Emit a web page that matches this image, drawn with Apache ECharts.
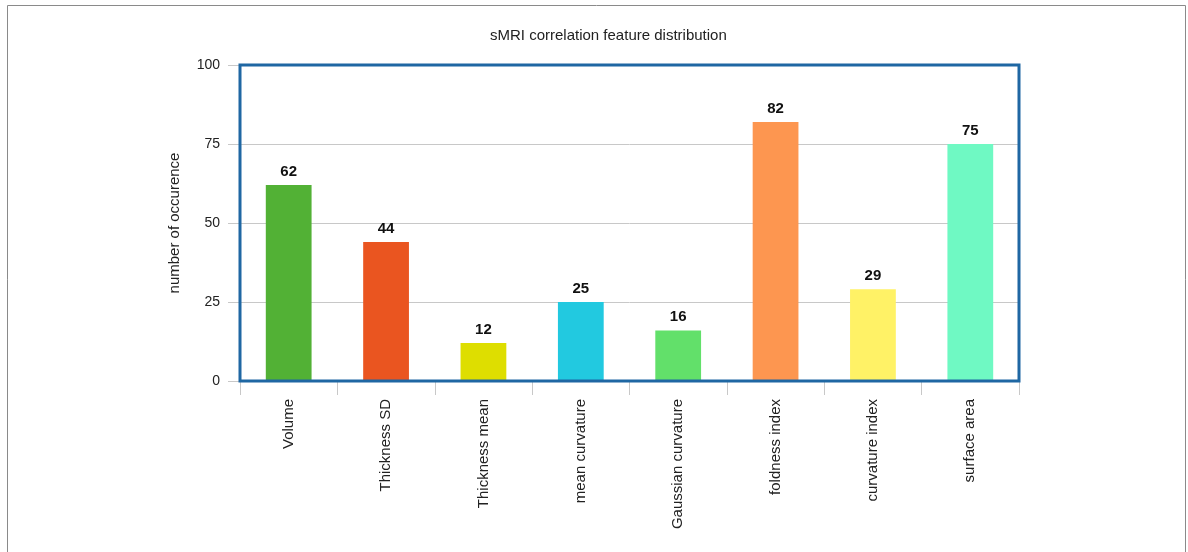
<!DOCTYPE html>
<html>
<head>
<meta charset="utf-8">
<script src="https://cdn.jsdelivr.net/npm/echarts@6/dist/echarts.min.js"></script>
<style>html,body{margin:0;padding:0;background:#fff}#c{width:1188px;height:552px}</style>
</head>
<body>
<div id="c"></div>
<script>
const categories = ['Volume','Thickness SD','Thickness mean','mean curvature','Gaussian curvature','foldness index','curvature index','surface area'];
const counts = [62, 44, 12, 25, 16, 82, 29, 75];
const barColors = ['#52b135','#ea5520','#dede00','#22c9e0','#62e06a','#fd9650','#fff266','#6ff9c3'];
const yTicks = [0, 25, 50, 75, 100];

const G = {left: 240, right: 169, top: 65, bottom: 171};
const W = 1188, H = 552;

const chart = echarts.init(document.getElementById('c'), null, {renderer:'canvas'});
chart.setOption({
  backgroundColor: '#fff',
  animation: false,
  title: {
    text: 'sMRI correlation feature distribution',
    left: 485, top: 23,
    textStyle: {fontFamily: 'Liberation Sans', fontSize: 15, fontWeight: 'normal', color: '#222'}
  },
  graphic: [{
    type: 'rect', shape: {x: 7.5, y: 5.5, width: 1178, height: 570},
    style: {fill: 'none', stroke: '#8a8a8a', lineWidth: 1}, silent: true, z: -10
  }, {
    type: 'rect', shape: {x: G.left, y: G.top, width: W - G.left - G.right, height: H - G.top - G.bottom},
    style: {fill: 'none', stroke: '#1f67a3', lineWidth: 3}, silent: true, z: 100
  }],
  grid: G,
  xAxis: {
    type: 'category', data: categories,
    axisLine: {show: false},
    axisTick: {show: true, length: 14, lineStyle: {color: '#c8c8c8'}},
    axisLabel: {rotate: 90, margin: 18, fontFamily: 'Liberation Sans', fontSize: 15, color: '#222'}
  },
  yAxis: {
    type: 'value', min: yTicks[0], max: yTicks[yTicks.length-1], interval: 25,
    name: 'number of occurence', nameLocation: 'middle', nameGap: 58,
    nameTextStyle: {fontFamily: 'Liberation Sans', fontSize: 15, color: '#222'},
    axisLine: {show: false},
    axisTick: {show: true, length: 12, lineStyle: {color: '#c8c8c8'}},
    axisLabel: {margin: 20, fontFamily: 'Liberation Sans', fontSize: 14, color: '#222'},
    splitLine: {show: true, lineStyle: {color: '#c8c8c8', width: 1}}
  },
  series: [{
    type: 'bar', barWidth: '47%',
    data: counts.map((v, i) => ({value: v, itemStyle: {color: barColors[i]}})),
    label: {show: true, position: 'top', distance: 6, fontFamily: 'Liberation Sans', fontSize: 15, fontWeight: 'bold', color: '#111'}
  }]
});
</script>
</body>
</html>
